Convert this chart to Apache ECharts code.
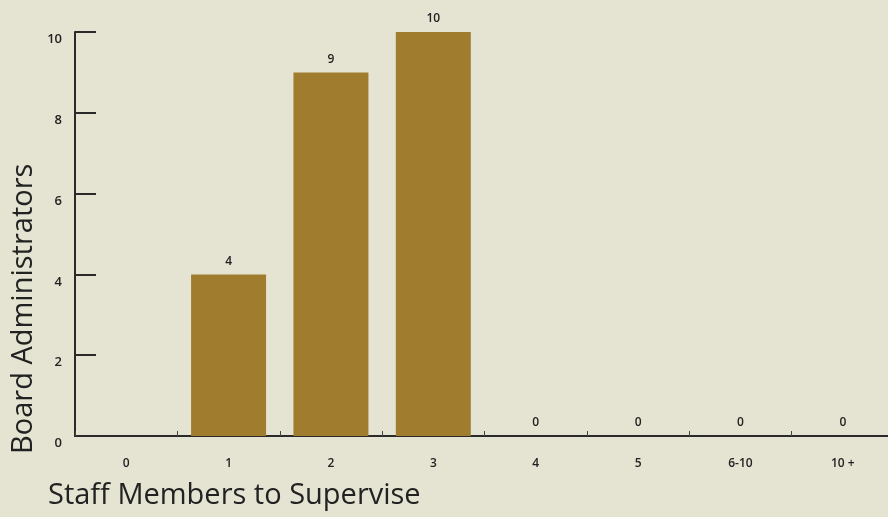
<!DOCTYPE html>
<html>
<head>
<meta charset="utf-8">
<script src="https://cdn.jsdelivr.net/npm/echarts@6/dist/echarts.min.js"></script>
<style>
html, body { margin: 0; padding: 0; background: #e5e4d2; overflow: hidden; }
#chart { width: 894px; height: 517px; }
</style>
</head>
<body>
<div id="chart"></div>
<script>
// staff members each board administrator supervises
var categories = ['0', '1', '2', '3', '4', '5', '6-10', '10 +'];
var admins = [null, 4, 9, 10, 0, 0, 0, 0];
var yTicks = [0, 2, 4, 6, 8, 10];

var font = '"Open Sans", "Noto Sans", sans-serif';
var chart = echarts.init(document.getElementById('chart'));

// the x axis runs a little past the right edge of the page, as in the original
var option = {
    backgroundColor: '#e5e4d2',
    animation: false,
    grid: { left: 75, right: 0, top: 32, bottom: 81 },
    xAxis: {
        type: 'category',
        data: categories,
        axisLine: { lineStyle: { color: '#2a2a2a', width: 2 } },
        axisTick: { show: true, inside: true, length: 5, lineStyle: { color: '#444', width: 1 } },
        axisLabel: { color: '#222', fontFamily: font, fontSize: 12, fontWeight: 600, margin: 22 }
    },
    yAxis: {
        type: 'value',
        min: yTicks[0],
        max: yTicks[yTicks.length - 1],
        interval: 2,
        splitLine: { show: false },
        axisLine: { show: true, lineStyle: { color: '#2a2a2a', width: 2 } },
        axisTick: { show: true, inside: true, length: 21, lineStyle: { color: '#2a2a2a', width: 2 } },
        axisLabel: { color: '#222', fontFamily: font, fontSize: 13, fontWeight: 600, margin: 13, verticalAlign: 'top', padding: [1, 0, 0, 0] }
    },
    series: [{
        type: 'bar',
        data: admins,
        barWidth: 75,
        itemStyle: { color: '#a07c2e' },
        label: {
            show: true,
            position: 'top',
            distance: 7,
            color: '#222',
            fontFamily: font,
            fontSize: 12,
            fontWeight: 600
        }
    }],
    graphic: [{
        type: 'text',
        left: 48,
        top: 481,
        style: { text: 'Staff Members to Supervise', fill: '#222', font: '29px ' + font }
    }, {
        type: 'text',
        rotation: Math.PI / 2,
        x: 9,
        y: 454,
        style: { text: 'Board Administrators', fill: '#222', font: '29px ' + font }
    }]
};
chart.setOption(option);
</script>
</body>
</html>
